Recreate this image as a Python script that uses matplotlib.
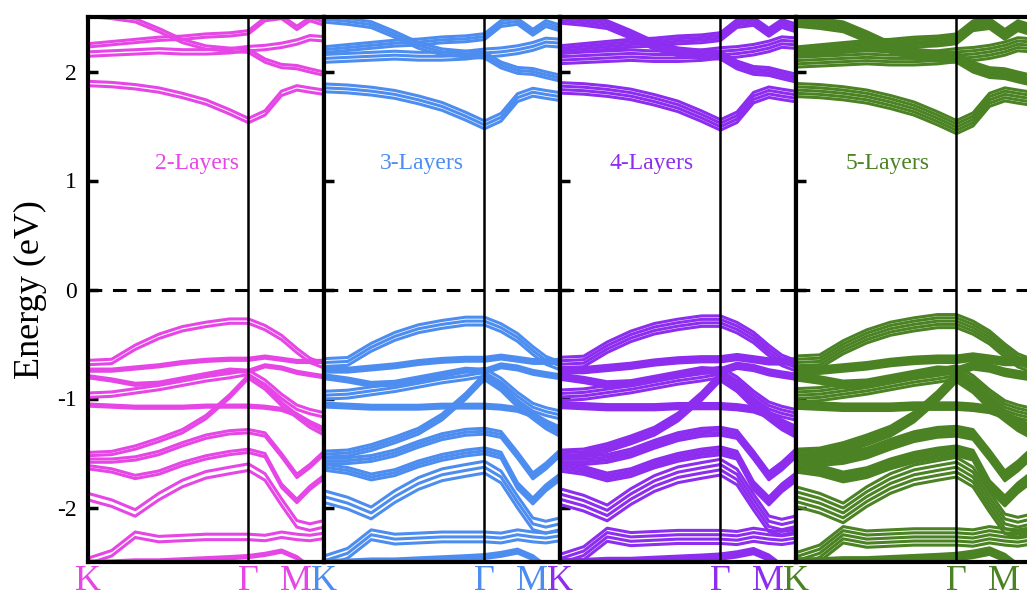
import matplotlib
matplotlib.use('Agg')
import matplotlib.pyplot as plt

# k-path nodes, as fraction of the width of one panel
k_nodes = [0, 0.1, 0.2, 0.3, 0.4, 0.5, 0.6, 0.68, 0.75, 0.82, 0.885, 0.94, 1.0]
k_ticks = [0, 0.68, 0.88]
k_labels = ['K', 'Γ', 'M']

panel_names = ['2-Layers', '3-Layers', '4-Layers', '5-Layers']
panel_colors = ['#E646E6', '#4D8DF0', '#8C2DF0', '#4B8223']
name_x = [0.46, 0.415, 0.39, 0.39]

# how each band splits into sub-bands for every layer count (units of band split)
layer_offsets = [[0.5, -0.5],
                 [0.9, 0.0, -0.9],
                 [1.2, 0.4, -0.4, -1.2],
                 [1.5, 0.75, 0.0, -0.75, -1.5]]
cb_shift = [0.0, -0.04, -0.04, -0.06]

# conduction bands (eV) at the k nodes
cb1 = [1.89, 1.88, 1.86, 1.83, 1.78, 1.72, 1.63, 1.55, 1.62, 1.80, 1.85, 1.83, 1.81]
cb2 = [2.52, 2.50, 2.47, 2.38, 2.28, 2.22, 2.20, 2.19, 2.10, 2.05, 2.04, 2.01, 1.98]
cb3 = [2.24, 2.26, 2.28, 2.30, 2.31, 2.33, 2.34, 2.36, 2.48, 2.50, 2.40, 2.48, 2.44]
cb4 = [2.16, 2.17, 2.18, 2.19, 2.18, 2.18, 2.19, 2.21, 2.22, 2.24, 2.27, 2.31, 2.30]
conduction = [cb1, cb2, cb3, cb4]
cb_split = [0.04, 0.03, 0.03, 0.04]

# valence bands (eV) at the k nodes
vb1 = [-0.67, -0.66, -0.53, -0.43, -0.36, -0.32, -0.29, -0.29, -0.35, -0.44, -0.56, -0.65, -0.70]
vb2 = [-0.74, -0.74, -0.72, -0.70, -0.67, -0.65, -0.64, -0.64, -0.62, -0.64, -0.66, -0.66, -0.66]
vb3 = [-0.80, -0.83, -0.87, -0.86, -0.82, -0.78, -0.74, -0.75, -0.70, -0.72, -0.76, -0.78, -0.80]
vb4 = [-0.97, -0.96, -0.93, -0.90, -0.86, -0.82, -0.79, -0.76, -0.85, -0.98, -1.08, -1.12, -1.15]
vb5 = [-1.06, -1.07, -1.08, -1.08, -1.08, -1.07, -1.07, -1.07, -1.08, -1.10, -1.15, -1.22, -1.28]
vb6 = [-1.51, -1.50, -1.45, -1.38, -1.30, -1.17, -0.98, -0.80, -0.90, -1.05, -1.16, -1.25, -1.32]
vb7 = [-1.57, -1.57, -1.55, -1.50, -1.42, -1.35, -1.31, -1.30, -1.33, -1.52, -1.71, -1.62, -1.50]
vb8 = [-1.63, -1.66, -1.72, -1.68, -1.60, -1.54, -1.50, -1.48, -1.52, -1.80, -1.94, -1.82, -1.72]
vb9 = [-1.90, -1.96, -2.05, -1.90, -1.78, -1.70, -1.66, -1.63, -1.72, -1.95, -2.15, -2.18, -2.15]
vb10 = [-2.49, -2.42, -2.25, -2.29, -2.28, -2.27, -2.27, -2.27, -2.28, -2.25, -2.27, -2.28, -2.26]
vb11 = [-2.50, -2.50, -2.49, -2.49, -2.48, -2.47, -2.46, -2.45, -2.43, -2.40, -2.46, -2.55, -2.60]
valence = [vb1, vb2, vb3, vb4, vb5, vb6, vb7, vb8, vb9, vb10, vb11]
vb_split = [0.04, 0.02, 0.02, 0.04, 0.02, 0.03, 0.03, 0.03, 0.06, 0.05, 0.02]


def main():
    plt.rcParams['font.family'] = ['Liberation Serif', 'DejaVu Serif']
    plt.rcParams['axes.unicode_minus'] = False
    fig = plt.figure(figsize=(10.27, 5.99), dpi=100)

    for i in range(4):
        left = (88 + 236 * i) / 1027
        ax = fig.add_axes([left, 37 / 599, 236 / 1027, 545 / 599])
        color = panel_colors[i]
        offs = layer_offsets[i]

        # Draw the bands, one line per layer.
        for band, split in zip(conduction, cb_split):
            for o in offs:
                ax.plot(k_nodes, [e + cb_shift[i] + split * o for e in band],
                        color=color, lw=2.2, solid_capstyle='round')
        for band, split in zip(valence, vb_split):
            for o in offs:
                ax.plot(k_nodes, [e + split * o for e in band],
                        color=color, lw=2.2, solid_capstyle='round')

        # Fermi level and Gamma line.
        ax.axhline(0, color='black', lw=2.2, dashes=(4.5, 3.5))
        ax.axvline(0.68, color='black', lw=1.8)

        ax.set_xlim(0, 1)
        ax.set_ylim(-2.5, 2.5)
        ax.set_yticks([-2, -1, 0, 1, 2])
        ax.set_xticks(k_ticks)
        ax.set_xticklabels(k_labels, fontsize=26)
        for lab in ax.get_xticklabels():
            lab.set_color(color)
        ax.tick_params(axis='x', length=0, pad=2)
        ax.tick_params(axis='y', direction='in', length=7, width=2.5,
                       labelsize=17, pad=8, labelleft=(i == 0))
        for s in ax.spines.values():
            s.set_linewidth(3)
        ax.text(name_x[i], 1.16, panel_names[i], color=color, fontsize=17,
                ha='center', va='center', transform=ax.get_yaxis_transform())

    fig.text(30 / 1027, 1 - 290 / 599, 'Energy (eV)', rotation=90,
             ha='center', va='center', fontsize=26)

    plt.savefig('out.png', dpi=100)


main()
